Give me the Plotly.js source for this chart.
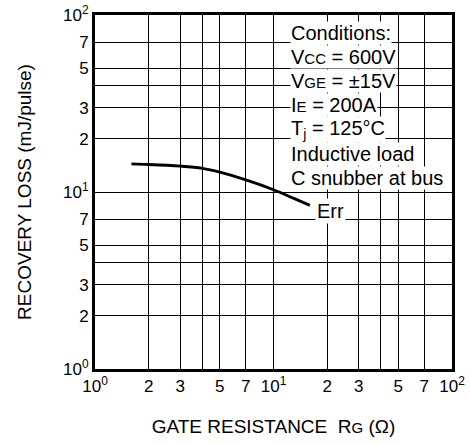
<!DOCTYPE html>
<html>
<head>
<meta charset="utf-8">
<script src="https://cdn.plot.ly/plotly-3.0.1.min.js"></script>
<style>html,body{margin:0;padding:0;background:#fff;}#chart{width:470px;height:444px;}</style>
</head>
<body>
<div id="chart"></div>
<script>
// Data
const gateResistance = [1.6, 2, 3, 4, 5, 7, 10, 13, 16];
const recoveryLoss   = [14.4, 14.3, 14.0, 13.6, 12.95, 11.7, 10.3, 9.2, 8.4];

const xTickVals = [1, 2, 3, 4, 5, 7, 10, 20, 30, 40, 50, 70, 100];
const xTickText = ["10<sup>0</sup>", "2", "3", "", "5", "7", "10<sup>1</sup>", "2", "3", "", "5", "7", "10<sup>2</sup>"];
const yTickVals = [1, 2, 3, 4, 5, 7, 10, 20, 30, 40, 50, 70, 100];
const yTickText = ["10<sup>0</sup>", "2", "3", "", "5", "7", "10<sup>1</sup>", "2", "3", "", "5", "7", "10<sup>2</sup>"];

const conditionLines = [
  "Conditions:",
  "V<span style='font-size:15px'>CC</span> = 600V",
  "V<span style='font-size:15px'>GE</span> = \u00b115V",
  "I<span style='font-size:15px'>E</span> = 200A",
  "T<sub>j</sub> = 125\u00b0C",
  "Inductive load",
  "C snubber at bus"
];
const curveLabel = "Err";

const FONT = "Liberation Sans, Arial, Helvetica, sans-serif";
const plotL = 95, plotT = 15, plotW = 357, plotH = 354;

const annotations = conditionLines.map((t, i) => ({
  xref: "paper", yref: "paper",
  x: (290 - plotL) / plotW,
  y: (plotT + plotH - (32.5 + i * 24.2)) / plotH,
  xanchor: "left", yanchor: "middle", align: "left",
  text: t, showarrow: false,
  font: {family: FONT, size: 20, color: "#000"},
  bgcolor: "#fff", borderpad: 0
}));
annotations.push({
  xref: "paper", yref: "paper",
  x: (330 - plotL) / plotW,
  y: (plotT + plotH - 211) / plotH,
  xanchor: "center", yanchor: "middle",
  text: curveLabel, showarrow: false,
  font: {family: FONT, size: 20, color: "#000"},
  bgcolor: "#fff", borderpad: 1
});

const axisCommon = {
  type: "log",
  showline: true, mirror: true, linecolor: "#000", linewidth: 3,
  showgrid: true, gridcolor: "#000", gridwidth: 1,
  zeroline: false, ticks: "",
  tickmode: "array",
  tickfont: {family: FONT, size: 17, color: "#000"}
};

const layout = {
  width: 470, height: 444,
  margin: {l: plotL, r: 470 - plotL - plotW, t: plotT, b: 444 - plotT - plotH, pad: 0},
  paper_bgcolor: "#fff", plot_bgcolor: "#fff",
  showlegend: false,
  font: {family: FONT, color: "#000"},
  xaxis: Object.assign({}, axisCommon, {
    range: [0, 2],
    tickvals: xTickVals, ticktext: xTickText,
    title: {text: "GATE RESISTANCE \u00a0R<span style='font-size:15px'>G</span> (\u03a9)", font: {family: FONT, size: 19, color: "#000"}, standoff: 25}
  }),
  yaxis: Object.assign({}, axisCommon, {
    range: [0, 2],
    tickvals: yTickVals, ticktext: yTickText,
    title: {text: "RECOVERY LOSS (mJ/pulse)", font: {family: FONT, size: 19, color: "#000"}, standoff: 27}
  }),
  annotations: annotations
};

const traces = [{
  x: gateResistance, y: recoveryLoss,
  type: "scatter", mode: "lines",
  line: {color: "#000", width: 2.8, shape: "spline", smoothing: 1},
  hoverinfo: "skip"
}];

Plotly.newPlot("chart", traces, layout, {staticPlot: true, displayModeBar: false});
</script>
</body>
</html>
